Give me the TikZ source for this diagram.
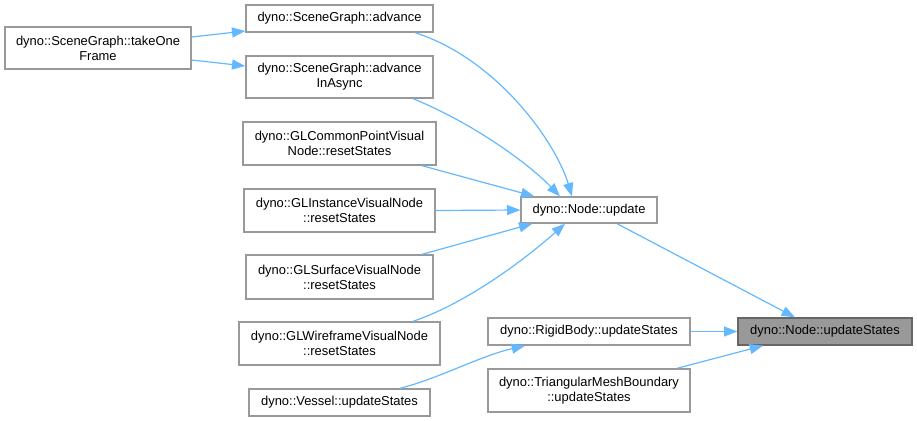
\documentclass[tikz,border=0pt]{standalone}
\usepackage{fontspec}
\setmainfont{Liberation Sans}
\usetikzlibrary{arrows.meta,calc}
\definecolor{edgeblue}{HTML}{63B8FF}
\definecolor{boxgray}{HTML}{999999}
\definecolor{hlfill}{HTML}{999999}
\definecolor{hlborder}{HTML}{666666}
\begin{document}
\begin{tikzpicture}[x=0.75pt,y=-0.75pt,
  box/.style={draw=boxgray,line width=1pt,fill=white,inner sep=0pt,align=center,
    font=\fontsize{9.7}{11.3}\selectfont,text=black},
  hl/.style={box,fill=hlfill,draw=hlborder},
  edge/.style={draw=edgeblue,line width=0.9pt,-{Triangle[length=10pt,width=7.5pt]}}]
\useasboundingbox (0,0) rectangle (917,421);
\node[box,minimum width=139.5pt,minimum height=31.5pt] (take) at (98,48) {dyno::SceneGraph::takeOne\\Frame};
\node[box,minimum width=140.25pt,minimum height=20.25pt] (adv) at (339.5,18.5) {dyno::SceneGraph::advance};
\node[box,minimum width=140.25pt,minimum height=31.5pt] (async) at (339.5,77) {dyno::SceneGraph::advance\\InAsync};
\node[box,minimum width=144.75pt,minimum height=32.25pt] (common) at (339.5,143.5) {dyno::GLCommonPointVisual\\Node::resetStates};
\node[box,minimum width=143.25pt,minimum height=32.25pt] (inst) at (339.5,210.5) {dyno::GLInstanceVisualNode\\::resetStates};
\node[box,minimum width=140.25pt,minimum height=33pt] (surf) at (339.5,277) {dyno::GLSurfaceVisualNode\\::resetStates};
\node[box,minimum width=150.75pt,minimum height=32.25pt] (wire) at (339.5,343.5) {dyno::GLWireframeVisualNode\\::resetStates};
\node[box,minimum width=135.75pt,minimum height=20.25pt] (vessel) at (339.5,402.5) {dyno::Vessel::updateStates};
\node[box,minimum width=102pt,minimum height=19.5pt] (update) at (589,210) {dyno::Node::update};
\node[box,minimum width=151.5pt,minimum height=20.25pt] (rigid) at (589,331.5) {dyno::RigidBody::updateStates};
\node[box,minimum width=151.5pt,minimum height=32.25pt] (tri) at (589,390.5) {dyno::TriangularMeshBoundary\\::updateStates};
\node[hl,minimum width=130.5pt,minimum height=20.25pt] (states) at (825,331.5) {dyno::Node::updateStates};

\draw[edge] ($(take.east)+(0,-11)$) -- ($(adv.west)+(0,12.5)$);
\draw[edge] ($(take.east)+(0,12)$) -- ($(async.west)+(0,-11)$);
\draw[edge] ($(adv.south)+(75.5,0)$) .. controls (495,58) and (555,140) .. ($(update.north)+(-17,0)$);
\draw[edge] ($(async.south)+(73.5,0)$) .. controls (475,124) and (530,165) .. ($(update.north)+(-29,0)$);
\draw[edge] ($(common.south)+(82.5,0)$) -- ($(update.north west)+(14,0)$);
\draw[edge] (inst.east) -- (update.west);
\draw[edge] ($(surf.north)+(82.5,0)$) -- ($(update.south west)+(12,0)$);
\draw[edge] ($(wire.north)+(73.5,0)$) .. controls (470,302) and (530,255) .. ($(update.south)+(-24,0)$);
\draw[edge] ($(vessel.north)+(60.5,0)$) .. controls (440,378) and (480,356) .. ($(rigid.south)+(-64,0)$);
\draw[edge] ($(update.south)+(28,0)$) -- ($(states.north)+(-30,0)$);
\draw[edge] (rigid.east) -- (states.west);
\draw[edge] ($(tri.north)+(88,0)$) -- ($(states.south)+(-62,0)$);
\end{tikzpicture}
\end{document}
